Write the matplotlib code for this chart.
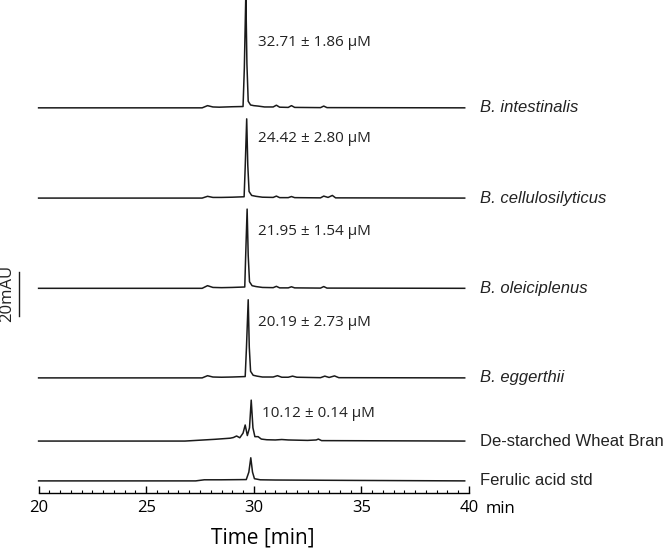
import matplotlib
matplotlib.use("Agg")
import matplotlib.pyplot as plt

# sample names, top to bottom
names = ["B. intestinalis", "B. cellulosilyticus", "B. oleiciplenus",
         "B. eggerthii", "De-starched Wheat Bran", "Ferulic acid std"]
italic = [True, True, True, True, False, False]
conc = ["32.71 ± 1.86 µM", "24.42 ± 2.80 µM", "21.95 ± 1.54 µM",
        "20.19 ± 2.73 µM", "10.12 ± 0.14 µM", None]
# baseline offset of each trace (mAU)
offsets = [175, 134, 93, 52.3, 23.6, 5.5]

# traces: time [min], signal [mAU] above baseline
t_int = [20, 27.6, 27.85, 28.1, 28.4, 28.7, 29.0, 29.5, 29.56, 29.63, 29.68, 29.74, 29.85, 30.0, 30.2,
         30.5, 30.9, 31.05, 31.2, 31.6, 31.75, 31.9, 33.1, 33.25, 33.4, 39.8]
v_int = [0, 0, 1.0, 0.4, 0.3, 0.4, 0.5, 0.6, 18, 52, 20, 3, 1.3, 1.0, 0.8,
         0.4, 0.4, 1.2, 0.3, 0.2, 1.0, 0.2, 0.1, 0.8, 0.1, 0]

t_cel = [20, 27.6, 27.85, 28.1, 28.5, 29.0, 29.55, 29.6, 29.67, 29.72, 29.78, 29.9, 30.1, 30.4,
         30.9, 31.05, 31.2, 31.6, 31.75, 31.9, 33.1, 33.25, 33.45, 33.65, 33.8, 39.8]
v_cel = [0, 0, 0.8, 0.3, 0.3, 0.4, 0.6, 14, 36, 15, 3, 1.2, 0.8, 0.4,
         0.3, 0.9, 0.2, 0.2, 0.7, 0.2, 0.1, 0.9, 0.3, 1.2, 0.1, 0]

t_ole = [20, 27.6, 27.85, 28.1, 28.5, 29.0, 29.58, 29.62, 29.69, 29.74, 29.8, 29.92, 30.1, 30.4,
         30.9, 31.05, 31.2, 31.6, 31.75, 31.9, 33.1, 33.25, 33.4, 39.8]
v_ole = [0, 0, 1.2, 0.4, 0.3, 0.4, 0.6, 14, 36, 15, 3, 1.2, 0.8, 0.4,
         0.3, 0.9, 0.2, 0.2, 0.7, 0.2, 0.1, 0.8, 0.1, 0]

t_egg = [20, 27.6, 27.85, 28.1, 28.5, 29.0, 29.6, 29.66, 29.74, 29.79, 29.85, 29.97, 30.15, 30.4,
         30.9, 31.1, 31.3, 31.6, 31.8, 32.0, 33.1, 33.3, 33.5, 33.75, 33.95, 39.8]
v_egg = [0, 0, 1.0, 0.4, 0.3, 0.4, 0.6, 14, 35.5, 14, 3, 1.2, 0.8, 0.4,
         0.4, 1.0, 0.3, 0.3, 0.8, 0.3, 0.1, 0.8, 0.2, 0.9, 0.1, 0]

t_whb = [20, 26.8, 27.5, 28.2, 28.9, 29.05, 29.2, 29.35, 29.5, 29.6, 29.7, 29.8, 29.88, 29.96, 30.05,
         30.2, 30.35, 30.6, 31.0, 31.3, 31.6, 32.5, 32.9, 33.0, 33.15, 39.8]
v_whb = [0, 0, 0.4, 0.8, 1.3, 1.6, 2.3, 1.5, 3.6, 7.3, 2.5, 6, 18.6, 6, 2.0,
         2.0, 0.9, 0.6, 0.5, 0.7, 0.5, 0.3, 0.5, 0.9, 0.2, 0]

t_fer = [20, 27.3, 27.7, 28.5, 29.65, 29.77, 29.86, 29.94, 30.03, 30.3, 31.0, 35.0, 39.8]
v_fer = [0, 0, 0.5, 0.5, 0.6, 4, 10.5, 4, 1.0, 0.5, 0.4, 0.2, 0]

traces = [(t_int, v_int), (t_cel, v_cel), (t_ole, v_ole),
          (t_egg, v_egg), (t_whb, v_whb), (t_fer, v_fer)]
# label position of the concentration (time, mAU above baseline)
conc_pos = [(30.2, 29.5), (30.2, 27), (30.2, 26), (30.2, 25), (30.4, 12.5)]

fig = plt.figure(figsize=(6.72, 5.49), dpi=100)
ax = fig.add_axes([38.6 / 672, 56 / 549, (469 - 38.6) / 672, 493 / 549])
ax.set_xlim(20, 40)
ax.set_ylim(0, 224)

for i, (t, v) in enumerate(traces):
    y = [val + offsets[i] for val in v]
    ax.plot(t, y, color="#1a1a1a", lw=1.1, clip_on=False)
    ax.text(40.5, offsets[i], names[i], fontsize=12, va="center", ha="left",
            family="Liberation Sans", style="italic" if italic[i] else "normal",
            color="#222222", clip_on=False)
    if conc[i] is not None:
        ax.text(conc_pos[i][0], offsets[i] + conc_pos[i][1], conc[i], fontsize=11,
                family="Open Sans", va="center", ha="left", color="#222222")

# scale bar 20 mAU
ax.plot([19.09, 19.09], [80.5, 100.5], color="#1a1a1a", lw=1.0, clip_on=False)
ax.text(18.55, 90.5, "20mAU", rotation=90, fontsize=12, family="Open Sans",
        va="center", ha="center", color="#222222", clip_on=False)

for s in ["top", "right", "left"]:
    ax.spines[s].set_visible(False)
ax.spines["bottom"].set_linewidth(1.0)
ax.set_yticks([])
ax.set_xticks([20, 25, 30, 35, 40])
ax.set_xticks([20 + 0.5 * k for k in range(41)], minor=True)
ax.tick_params(axis="x", which="major", direction="in", length=5, width=1.0, pad=5,
               labelsize=12)
ax.tick_params(axis="x", which="minor", direction="in", length=2.5, width=0.8)
for lab in ax.get_xticklabels():
    lab.set_family("Open Sans")
ax.text(40.75, -7.2, "min", fontsize=12, family="Open Sans", va="center", ha="left",
        clip_on=False)
ax.text(30.4, -20.5, "Time [min]", fontsize=15, family="Open Sans", va="center",
        ha="center", clip_on=False)

fig.savefig("out.png", dpi=100)
